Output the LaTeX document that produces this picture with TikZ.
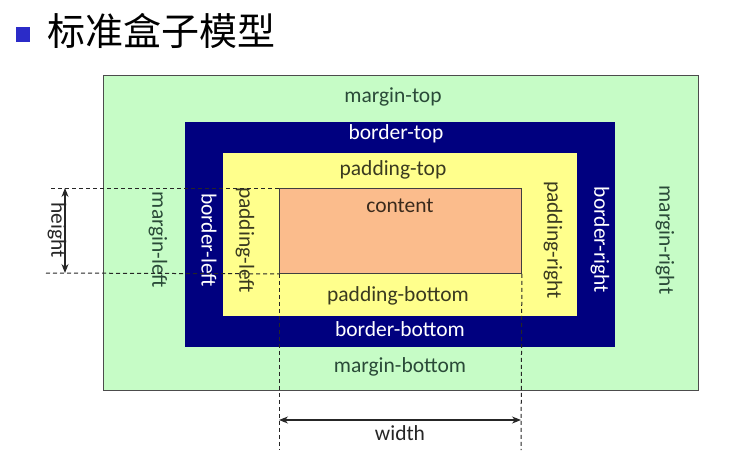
\documentclass[tikz,border=0pt]{standalone}
\usepackage{fontspec}
\setmainfont{Carlito}
\newfontfamily\cjk{Noto Sans CJK SC}
\usetikzlibrary{arrows.meta}
\definecolor{mgreen}{HTML}{C6FCC6}
\definecolor{bnavy}{HTML}{00007F}
\definecolor{pyellow}{HTML}{FFFF8C}
\definecolor{corange}{HTML}{FBBC8C}
\definecolor{mtext}{HTML}{2A4A38}
\definecolor{ptext}{HTML}{3A3A20}
\definecolor{ctext}{HTML}{3A2A1C}
\definecolor{tblue}{HTML}{2B2BC8}
\tikzset{
  lbl/.style={inner sep=0pt, font=\fontsize{21.5}{24}\selectfont},
  mlbl/.style={lbl, text=mtext},
  blbl/.style={lbl, text=white},
  plbl/.style={lbl, text=ptext},
  clbl/.style={lbl, text=ctext},
  vert/.style={rotate=-90},
  guide/.style={dash pattern=on 4pt off 3pt, line width=1pt, black!85},
  dimline/.style={{Stealth[length=9pt,width=7pt]}-{Stealth[length=9pt,width=7pt]}, line width=1.1pt, black!85},
}
\begin{document}
\begin{tikzpicture}[x=1pt,y=-1pt]
\useasboundingbox[fill=white] (0,0) rectangle (746,455);
% title
\fill[tblue] (16,27) rectangle (30,42);
\node[anchor=west, inner sep=0pt, font=\cjk\fontsize{38}{40}\selectfont] (title) at (47,31) {标准盒子模型};
% boxes
\node[draw=black!70, line width=0.9pt, fill=mgreen, minimum width=595pt, minimum height=315pt, anchor=north west, inner sep=0pt] (margin) at (103,75) {};
\node[fill=bnavy, minimum width=430pt, minimum height=225pt, anchor=north west, inner sep=0pt] (border) at (185,122) {};
\node[fill=pyellow, minimum width=354pt, minimum height=163pt, anchor=north west, inner sep=0pt] (padding) at (223,153) {};
\node[draw=black!75, line width=0.9pt, fill=corange, minimum width=242pt, minimum height=85pt, anchor=north west, inner sep=0pt] (content) at (279,188) {};
% labels
\node[mlbl] (mt) at (393,97) {margin-top};
\node[blbl] (bt) at (396,134) {border-top};
\node[plbl] (pt) at (393,170) {padding-top};
\node[clbl] (ct) at (400,206) {content};
\node[plbl] (pb) at (398,296) {padding-bottom};
\node[blbl] (bb) at (400,329) {border-bottom};
\node[mlbl] (mb) at (400,367) {margin-bottom};
\node[mlbl, vert] (ml) at (158,240) {margin-left};
\node[blbl, vert] (bl) at (209,240) {border-left};
\node[plbl, vert] (pl) at (245,240) {padding-left};
\node[plbl, vert] (pr) at (553,240) {padding-right};
\node[blbl, vert] (br) at (600,240) {border-right};
\node[mlbl, vert] (mr) at (665,240) {margin-right};
% guides
\coordinate (gtl) at (51,188);
\coordinate (gbl) at (46,273);
\coordinate (gwl) at (279,450);
\coordinate (gwr) at (521,450);
\draw[guide] (gtl) -- (content.north west);
\draw[guide] (gbl) -- (content.south west);
\draw[guide] (content.south west) -- (gwl);
\draw[guide] (content.south east) -- (gwr);
% dimension arrows
\coordinate (ht) at (65,188);
\coordinate (hb) at (65,273);
\draw[dimline] (ht) -- (hb);
\node[lbl, vert, text=black!85] (hl) at (57,230) {height};
\coordinate (wl) at (279,420);
\coordinate (wr) at (521,420);
\draw[dimline] (wl) -- (wr);
\node[lbl, text=black!85] (wlbl) at (400,433) {width};
\end{tikzpicture}
\end{document}
